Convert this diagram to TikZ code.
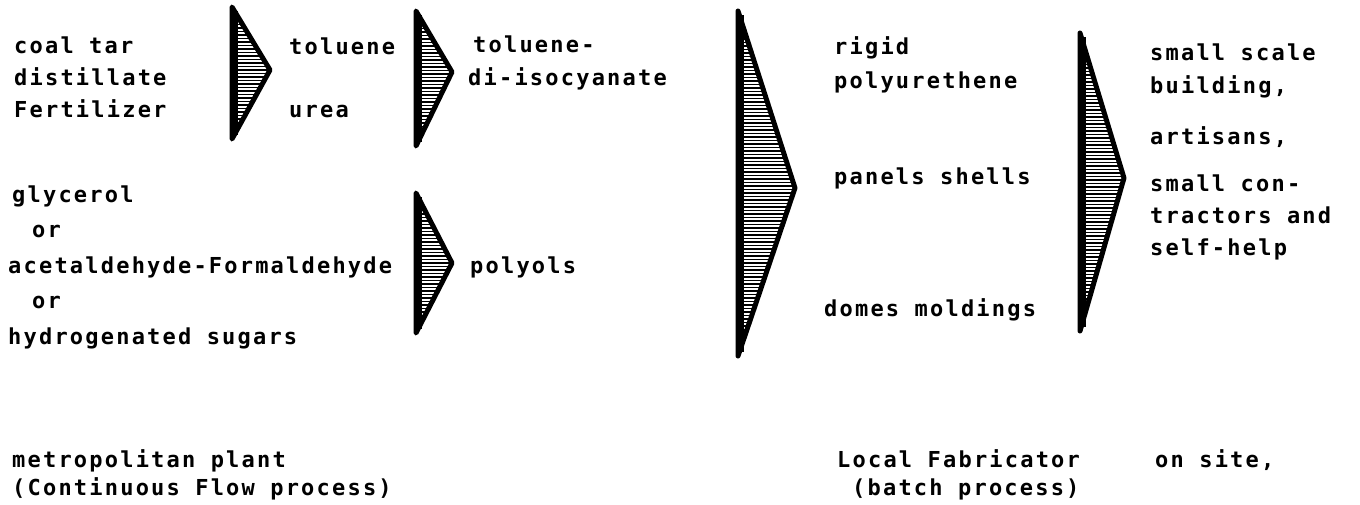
\documentclass[tikz,border=0pt]{standalone}
\usepackage{fontspec}
\newfontfamily\hand[LetterSpace=10]{DejaVu Sans Mono}
\newcommand{\hatchtri}[5]{%
  \begin{scope}
    \clip (#1,#2) -- (#4,#5) -- (#1,#3) -- cycle;
    \foreach \k in {0,...,110} \draw[line width=1.7pt] (#1,#2+\k*3.5) -- (#4,#2+\k*3.5);
  \end{scope}
  \draw[line width=5pt, line join=round] (#1,#2) -- (#4,#5) -- (#1,#3) -- cycle;
  \draw[line width=7pt] (#1+2,#2+4) -- (#1+2,#3-4);
}
\tikzset{lbl/.style={anchor=base west, inner sep=0pt, font=\hand\bfseries\fontsize{22}{25}\selectfont}}
\begin{document}
\begin{tikzpicture}[x=1pt,y=-1pt]
\useasboundingbox[fill=white] (0,0) rectangle (1360,504);
% triangles
\hatchtri{232}{7}{139}{270}{70}
\hatchtri{416}{11}{146}{452}{72}
\hatchtri{416}{193}{333}{452}{263}
\hatchtri{738}{11}{356}{795}{188}
\hatchtri{1080}{33}{331}{1124}{178}
% left column
\node[lbl] (coal) at (14,53) {coal tar};
\node[lbl] (dist) at (14,85) {distillate};
\node[lbl] (fert) at (14,117) {Fertilizer};
\node[lbl] (tol) at (289,54) {toluene};
\node[lbl] (urea) at (289,117) {urea};
\node[lbl] (tdi1) at (473,52) {toluene-};
\node[lbl] (tdi2) at (468,85) {di-isocyanate};
\node[lbl] (gly) at (12,202) {glycerol};
\node[lbl] (or1) at (32,237) {or};
\node[lbl] (acet) at (8,273) {acetaldehyde-Formaldehyde};
\node[lbl] (or2) at (32,308) {or};
\node[lbl] (hyd) at (8,344) {hydrogenated sugars};
\node[lbl] (poly) at (470,273) {polyols};
% middle
\node[lbl] (rig1) at (834,54) {rigid};
\node[lbl] (rig2) at (834,88) {polyurethene};
\node[lbl] (pan) at (834,184) {panels shells};
\node[lbl] (dom) at (824,316) {domes moldings};
% right
\node[lbl] (u1) at (1150,60) {small scale};
\node[lbl] (u2) at (1150,93) {building,};
\node[lbl] (u3) at (1150,144) {artisans,};
\node[lbl] (u4) at (1150,191) {small con-};
\node[lbl] (u5) at (1150,223) {tractors and};
\node[lbl] (u6) at (1150,255) {self-help};
% bottom
\node[lbl] (m1) at (12,467) {metropolitan plant};
\node[lbl] (m2) at (12,495) {(Continuous Flow process)};
\node[lbl] (f1) at (837,467) {Local Fabricator};
\node[lbl] (f2) at (852,495) {(batch process)};
\node[lbl] (s1) at (1155,467) {on site,};
\end{tikzpicture}
\end{document}
